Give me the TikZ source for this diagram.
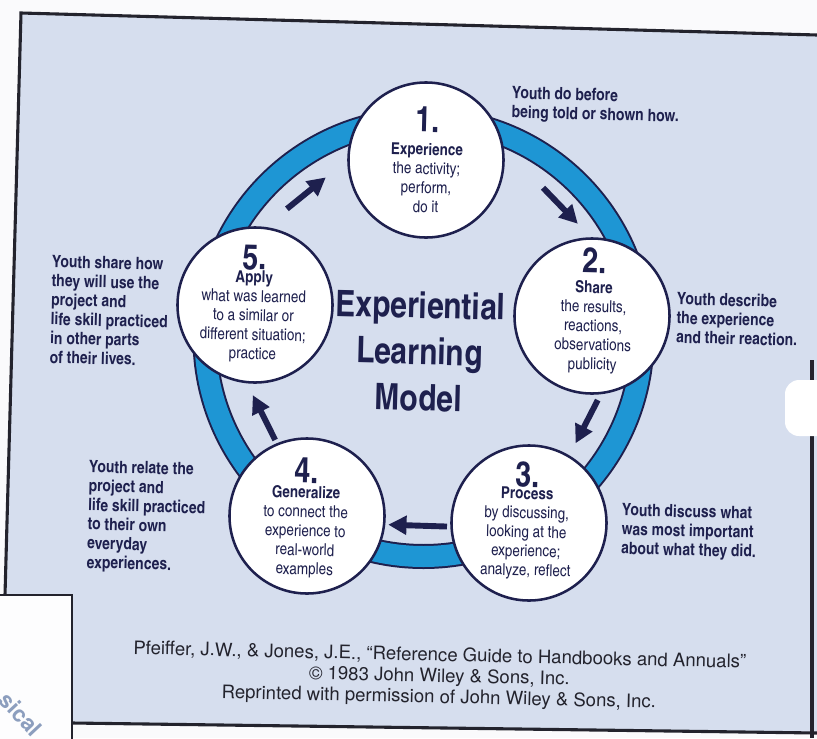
\documentclass[tikz,border=0pt]{standalone}
\usepackage{fontspec}
\setmainfont{TeX Gyre Heros}
\newfontfamily\narrow{texgyreheroscn}[Extension=.otf, UprightFont=*-regular, BoldFont=*-bold]
\usetikzlibrary{arrows.meta}
\definecolor{navy}{RGB}{30,32,78}
\definecolor{ringblue}{RGB}{30,150,212}
\definecolor{panel}{RGB}{214,222,238}
\definecolor{paper}{RGB}{250,250,252}
\definecolor{ink}{RGB}{35,35,45}
\definecolor{faded}{RGB}{140,158,190}

\tikzset{
  stage/.style={circle, draw=navy, line width=1.8pt, fill=white, minimum size=3.875cm, inner sep=0pt},
  stagetext/.style={anchor=north, align=center, inner sep=0pt, text=navy, rotate=-1.4, font=\narrow\fontsize{11.7}{13.6}\selectfont},
  note/.style={anchor=north west, align=left, inner sep=0pt, text=navy, rotate=-1.4, font=\narrow\bfseries\fontsize{12.1}{13.6}\selectfont},
  flow/.style={navy, line width=4.2pt, -{Triangle[length=13pt,width=13pt]}},
}
\newcommand{\stagenum}[1]{{\bfseries\fontsize{25}{25}\selectfont #1}}

\begin{document}
\begin{tikzpicture}[x=0.025cm, y=-0.025cm]
    \useasboundingbox (0,0) rectangle (817,738);
    % page
    \fill[paper] (0,0) rectangle (817,738);
    \fill[panel] (21,13) -- (817,35) -- (817,733) -- (72,723) -- (72,595) -- (5,595) -- cycle;
    \draw[ink, line width=2.2pt] (5,595) -- (21,13) -- (817,35);
    \draw[ink, line width=2.2pt] (72,723) -- (817,733);
    \draw[ink, line width=2.2pt] (812,360) -- (812,738);
    % ring
    \coordinate (hub) at (423.5,338);
    \draw[navy, line width=0.625cm] (hub) circle[radius=218.5];
    \draw[ringblue, line width=0.525cm] (hub) circle[radius=218.5];
    % arrows
    \foreach \a/\b/\r in {-136.6/-121.3/188, -51.5/-36.5/192, 19.6/34.7/185, 82.9/100.7/190, 145.5/161.5/180}
        \draw[flow] ([shift={(\a:\r)}]hub) -- ([shift={(\b:\r)}]hub);
    % stages
    \node[stage] (s1) at (426,160) {};
    \node[stage] (s2) at (592,316) {};
    \node[stage] (s3) at (529,523) {};
    \node[stage] (s4) at (307,516) {};
    \node[stage] (s5) at (255,305) {};
    \node[stagetext] (t1) at (428,107) {\stagenum{1.}\\[2.7pt]\textbf{Experience}\\the activity;\\perform,\\do it};
    \node[stagetext] (t2) at (595,248) {\stagenum{2.}\\[0.6pt]\textbf{Share}\\the results,\\reactions,\\observations\\publicity};
    \node[stagetext] (t3) at (528,462) {\stagenum{3.}\\[-5.1pt]\textbf{Process}\\by discussing,\\looking at the\\experience;\\analyze, reflect};
    \node[stagetext] (t4) at (307,458) {\stagenum{4.}\\[-3pt]\textbf{Generalize}\\to connect the\\experience to\\real-world\\examples};
    \node[stagetext] (t5) at (255,245) {\stagenum{5.}\\[-4.4pt]\textbf{Apply}\\what was learned\\to a similar or\\different situation;\\practice};
    % title
    \node[anchor=north, align=center, inner sep=0pt, text=navy, rotate=-1.4, font=\narrow\bfseries\fontsize{26}{33}\selectfont] (title) at (421,291) {Experiential\\Learning\\Model};
    % text
    \node[note] (n1) at (512,86) {Youth do before\\being told or shown how.};
    \node[note] (n2) at (677,292) {Youth describe\\the experience\\and their reaction.};
    \node[note] (n3) at (622,503) {Youth discuss what\\was most important\\about what they did.};
    \node[note] (n4) at (89,460) {Youth relate the\\project and\\life skill practiced\\to their own\\everyday\\experiences.};
    \node[note] (n5) at (52,255) {Youth share how\\they will use the\\project and\\life skill practiced\\in other parts\\of their lives.};
    \node[anchor=north, align=center, inner sep=0pt, text=ink, rotate=-1.3, font=\fontsize{13.2}{14.9}\selectfont] (credit) at (440,647) {Pfeiffer, J.W., \& Jones, J.E., ``Reference Guide to Handbooks and Annuals''\\\textcopyright{} 1983 John Wiley \& Sons, Inc.\\Reprinted with permission of John Wiley \& Sons, Inc.};
    % corner of the next page
    \filldraw[fill=white!95!panel, draw=ink, line width=1.6pt] (-5,595) rectangle (72,745);
    \node[rotate=-47, inner sep=0pt, text=faded, font=\bfseries\fontsize{16}{16}\selectfont] (tab) at (21,714) {sical};
    \fill[white, rounded corners=0.35cm] (785,380) rectangle (840,436);
\end{tikzpicture}
\end{document}
